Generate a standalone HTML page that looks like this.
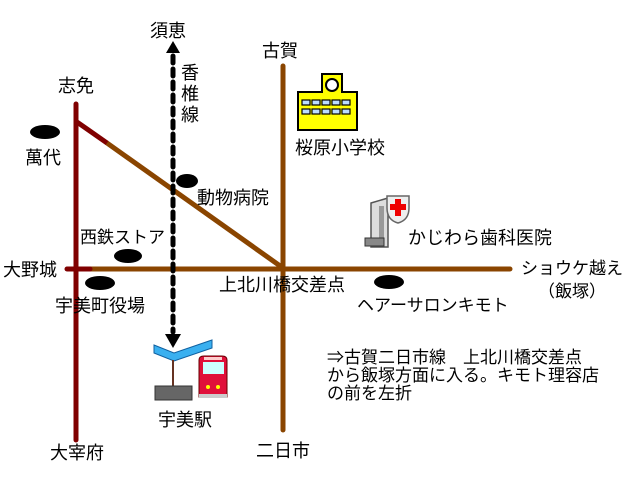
<!DOCTYPE html>
<html><head><meta charset="utf-8"><style>
html,body{margin:0;padding:0;background:#fff;}
svg text{font-family:"Liberation Sans","Noto Sans CJK JP",sans-serif;fill:#000;}
</style></head><body>
<svg width="640" height="480" viewBox="0 0 640 480" xmlns="http://www.w3.org/2000/svg">
<line x1="283" y1="66" x2="283" y2="430" stroke="#8a4500" stroke-width="5" stroke-linecap="round"/>
<line x1="90" y1="269" x2="510" y2="269" stroke="#8a4500" stroke-width="5" stroke-linecap="round"/>
<line x1="107" y1="143" x2="283" y2="268" stroke="#8a4500" stroke-width="5" stroke-linecap="round"/>
<line x1="77" y1="122" x2="107" y2="143" stroke="#800000" stroke-width="5"/>
<line x1="67" y1="269" x2="90" y2="269" stroke="#800000" stroke-width="5" stroke-linecap="round"/>
<line x1="76" y1="104" x2="76" y2="440" stroke="#800000" stroke-width="5" stroke-linecap="round"/>
<line x1="173" y1="56" x2="173" y2="332" stroke="#000" stroke-width="5" stroke-dasharray="7 6" stroke-linecap="round"/>
<polygon points="173,41 166,53 180,53" fill="#000"/>
<polygon points="173,348 165,334 181,334" fill="#000"/>
<ellipse cx="45" cy="132" rx="15" ry="7" fill="#000"/>
<ellipse cx="187" cy="181" rx="11" ry="7" fill="#000"/>
<ellipse cx="128" cy="256" rx="14" ry="7" fill="#000"/>
<ellipse cx="100" cy="283" rx="15" ry="7" fill="#000"/>
<ellipse cx="389" cy="282" rx="15" ry="7" fill="#000"/>
<g stroke="#000" stroke-width="2">
<path d="M322,74 H342 V92 H357 V130 H298 V92 H322 Z" fill="#ffff00"/>
<circle cx="332" cy="85" r="6" fill="#fff"/>
</g>
<g fill="#bdf" stroke="#000" stroke-width="1.2">
<rect x="302" y="100" width="8" height="5"/><rect x="312" y="100" width="8" height="5"/><rect x="322" y="100" width="8" height="5"/><rect x="332" y="100" width="8" height="5"/><rect x="342" y="100" width="8" height="5"/>
<rect x="302" y="109" width="8" height="5"/><rect x="312" y="109" width="8" height="5"/><rect x="322" y="109" width="8" height="5"/><rect x="332" y="109" width="8" height="5"/><rect x="342" y="109" width="8" height="5"/>
</g>
<path d="M371,203 L388,198 V247 H371 Z" fill="#ddd" stroke="#555" stroke-width="1.5"/>
<rect x="379" y="206" width="5" height="36" fill="#999"/>
<path d="M365,238 H384 V246 H365 Z" fill="#888" stroke="#333" stroke-width="1"/>
<path d="M387,196 H409 V208 Q409,220 398,223 Q387,220 387,208 Z" fill="#eee" stroke="#666" stroke-width="1.5"/>
<path d="M395,199 H401 V204 H406 V210 H401 V216 H395 V210 H390 V204 H395 Z" fill="#e00"/>
<path d="M154,345 L174,353 L212,340 L212,348 L174,361 L154,353 Z" fill="#3ab0f0" stroke="#1060a0" stroke-width="1"/>
<line x1="173" y1="360" x2="173" y2="388" stroke="#632" stroke-width="2"/>
<rect x="155" y="386" width="37" height="14" fill="#666" stroke="#333" stroke-width="1"/>
<path d="M199,360 Q199,356 204,356 H222 Q227,356 227,360 V397 H199 Z" fill="#e0103a" stroke="#600" stroke-width="1"/>
<rect x="203" y="362" width="21" height="12" fill="#cff"/>
<rect x="204" y="357" width="18" height="3" fill="#fcc"/>
<circle cx="208" cy="387" r="2" fill="#ff0"/><circle cx="218" cy="387" r="2" fill="#ff0"/>
<rect x="199" y="394" width="28" height="4" fill="#ccc"/>
<g font-size="18">
<text x="150" y="37">須恵</text>
<text x="181" y="79">香</text><text x="181" y="100">椎</text><text x="181" y="121">線</text>
<text x="58" y="92">志免</text>
<text x="25" y="164">萬代</text>
<text x="262" y="57">古賀</text>
<text x="295" y="154">桜原小学校</text>
<text x="197" y="204">動物病院</text>
<text x="408" y="244">かじわら歯科医院</text>
<text x="3" y="276">大野城</text>
<text x="219" y="291">上北川橋交差点</text>
<text x="55" y="312">宇美町役場</text>
<text x="158" y="426">宇美駅</text>
<text x="50" y="459">大宰府</text>
<text x="256" y="457">二日市</text>
</g>
<g font-size="17">
<text x="80" y="243">西鉄ストア</text>
<text x="521" y="274">ショウケ越え</text>
<text x="538" y="297">（飯塚）</text>
<text x="357" y="311">ヘアーサロンキモト</text>
<text x="327" y="363">⇒古賀二日市線　上北川橋交差点</text>
<text x="327" y="381">から飯塚方面に入る。キモト理容店</text>
<text x="327" y="399">の前を左折</text>
</g>
</svg>
</body></html>
